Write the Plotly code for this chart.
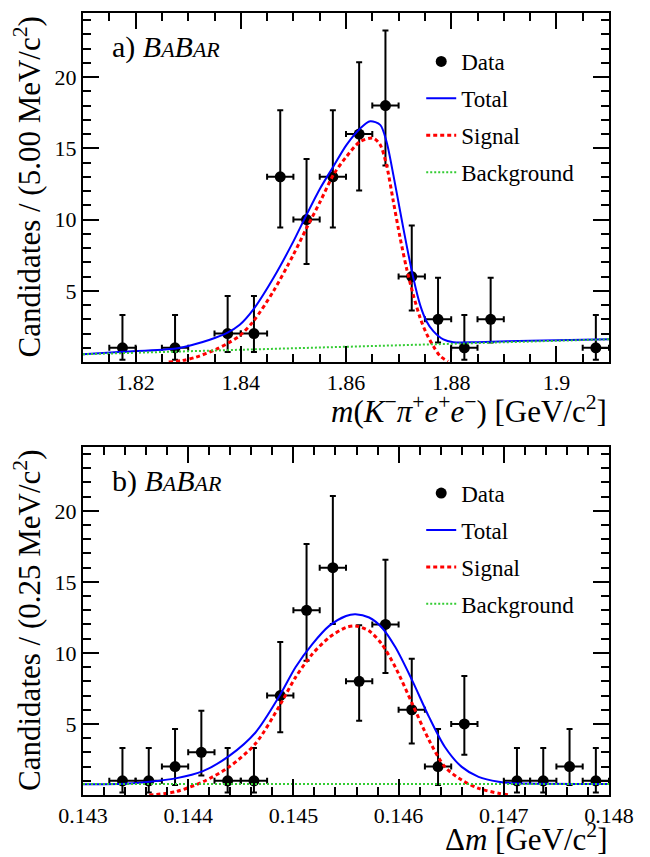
import plotly.graph_objects as go

# ---------------- data: panel a) m(K- pi+ e+ e-) ----------------
mass_centers = [1.8175, 1.8275, 1.8375, 1.8425, 1.8475, 1.8525, 1.8575, 1.8625,
                1.8675, 1.8725, 1.8775, 1.8825, 1.8875, 1.9075]
mass_counts = [1, 1, 2, 2, 13, 10, 13, 16, 18, 6, 3, 1, 3, 1]
mass_err_hi = [2.30, 2.30, 2.64, 2.64, 4.67, 4.26, 4.67, 5.04, 5.27, 3.58, 2.92, 2.30, 2.92, 2.30]
mass_err_lo = [0.83, 0.83, 1.29, 1.29, 3.56, 3.11, 3.56, 3.96, 4.21, 2.38, 1.63, 0.83, 1.63, 0.83]
mass_bin_half = 0.0025

mass_total_x = [1.810, 1.8176, 1.8277, 1.8309, 1.8341, 1.8374, 1.8398, 1.8424, 1.8462, 1.8500,
                1.8525, 1.8551, 1.8576, 1.8601, 1.8627, 1.8646, 1.8665, 1.8677, 1.8690, 1.8703,
                1.8715, 1.8728, 1.8741, 1.8753, 1.8766, 1.8785, 1.8804, 1.8850, 1.8950, 1.910]
mass_total_y = [0.55, 0.72, 0.96, 1.22, 1.57, 2.05, 2.62, 3.70, 5.90, 8.47,
                10.34, 12.20, 13.73, 15.25, 16.40, 16.90, 16.65, 15.48, 13.14, 10.57,
                8.24, 5.90, 4.00, 2.87, 2.17, 1.59, 1.40, 1.40, 1.50, 1.60]
mass_signal_x = [1.8263, 1.8290, 1.8315, 1.8353, 1.8379, 1.8398, 1.8424, 1.8462, 1.8500, 1.8525,
                 1.8551, 1.8576, 1.8601, 1.8627, 1.8652, 1.8665, 1.8677, 1.8690, 1.8703, 1.8715,
                 1.8728, 1.8741, 1.8753, 1.8766, 1.8779, 1.8794]
mass_signal_y = [0.0, 0.12, 0.35, 0.89, 1.40, 1.85, 2.87, 4.97, 7.54, 9.40,
                 11.27, 13.14, 14.43, 15.48, 15.71, 15.25, 13.84, 11.27, 8.70, 6.60,
                 4.70, 3.10, 2.00, 1.12, 0.42, 0.05]
mass_bkg_x = [1.810, 1.910]
mass_bkg_y = [0.55, 1.60]

# ---------------- data: panel b) delta m ----------------
dm_centers = [0.143375, 0.143625, 0.143875, 0.144125, 0.144375, 0.144625, 0.144875, 0.145125,
              0.145375, 0.145625, 0.145875, 0.146125, 0.146375, 0.146625, 0.147125, 0.147375,
              0.147625, 0.147875]
dm_counts = [1, 1, 2, 3, 1, 1, 7, 13, 16, 8, 12, 6, 2, 5, 1, 1, 2, 1]
dm_err_hi = [2.30, 2.30, 2.64, 2.92, 2.30, 2.30, 3.77, 4.67, 5.04, 3.95, 4.55, 3.58, 2.64, 3.38,
             2.30, 2.30, 2.64, 2.30]
dm_err_lo = [0.83, 0.83, 1.29, 1.63, 0.83, 0.83, 2.58, 3.56, 3.96, 2.77, 3.41, 2.38, 1.29, 2.16,
             0.83, 0.83, 1.29, 0.83]
dm_bin_half = 0.000125

dm_total_x = [0.14300, 0.14340, 0.14363, 0.14388, 0.14414, 0.14439, 0.14464, 0.14487, 0.14502,
              0.14518, 0.14534, 0.14550, 0.14559, 0.14572, 0.14584, 0.14597, 0.14613, 0.14629,
              0.14644, 0.14660, 0.14676, 0.14695, 0.14710, 0.14800]
dm_total_y = [0.76, 0.80, 0.93, 1.17, 1.68, 2.75, 4.40, 7.00, 8.99,
              10.62, 11.90, 12.60, 12.72, 12.49, 11.79, 10.39, 8.05, 5.48,
              3.38, 1.98, 1.28, 0.93, 0.82, 0.78]
dm_signal_x = [0.14363, 0.14388, 0.14414, 0.14439, 0.14464, 0.14487, 0.14502, 0.14518, 0.14534,
               0.14550, 0.14559, 0.14572, 0.14584, 0.14597, 0.14613, 0.14629, 0.14644, 0.14660,
               0.14676, 0.14695, 0.14706]
dm_signal_y = [0.0, 0.23, 0.93, 1.98, 3.62, 6.30, 8.28, 9.92, 11.09,
               11.79, 11.90, 11.55, 10.62, 8.98, 6.42, 3.85, 1.98, 1.05,
               0.47, 0.12, 0.0]
dm_bkg_x = [0.143, 0.148]
dm_bkg_y = [0.78, 0.78]

y_ticks = [5, 10, 15, 20]
mass_ticks = [1.82, 1.84, 1.86, 1.88, 1.90]
mass_ticktext = ["1.82", "1.84", "1.86", "1.88", "1.9"]
dm_ticks = [0.143, 0.144, 0.145, 0.146, 0.147, 0.148]
dm_ticktext = ["0.143", "0.144", "0.145", "0.146", "0.147", "0.148"]

FONT = "Liberation Serif"
BLUE = "#0000ff"
RED = "#ff0000"
GREEN = "#33cc33"

fig = go.Figure()


def add_panel(xa, ya, leg, tag, xc, n, ehi, elo, half, tx, ty, sx, sy, bx, by):
    fig.add_trace(go.Scatter(
        x=xc, y=n, mode="markers", name="Data", xaxis=xa, yaxis=ya, legend=leg,
        legendgroup=tag + "d",
        marker=dict(color="black", size=11, symbol="circle"),
        error_y=dict(type="data", symmetric=False, array=ehi, arrayminus=elo,
                     color="black", thickness=2, width=3),
        error_x=dict(type="constant", value=half, color="black", thickness=2, width=3),
    ))
    fig.add_trace(go.Scatter(
        x=tx, y=ty, mode="lines", name="Total", xaxis=xa, yaxis=ya, legend=leg,
        legendgroup=tag + "t",
        line=dict(color=BLUE, width=2, shape="spline", smoothing=0.8),
    ))
    fig.add_trace(go.Scatter(
        x=sx, y=sy, mode="lines", name="Signal", xaxis=xa, yaxis=ya, legend=leg,
        legendgroup=tag + "s",
        line=dict(color=RED, width=3, dash="4px,3px", shape="spline", smoothing=0.8),
    ))
    fig.add_trace(go.Scatter(
        x=bx, y=by, mode="lines", name="Background", xaxis=xa, yaxis=ya, legend=leg,
        legendgroup=tag + "b",
        line=dict(color=GREEN, width=2, dash="2px,2px"),
    ))


add_panel("x", "y", "legend", "a", mass_centers, mass_counts, mass_err_hi, mass_err_lo,
          mass_bin_half, mass_total_x, mass_total_y, mass_signal_x, mass_signal_y,
          mass_bkg_x, mass_bkg_y)
add_panel("x2", "y2", "legend2", "b", dm_centers, dm_counts, dm_err_hi, dm_err_lo,
          dm_bin_half, dm_total_x, dm_total_y, dm_signal_x, dm_signal_y,
          dm_bkg_x, dm_bkg_y)

axis_common = dict(
    showline=True, linewidth=2, linecolor="black", mirror="allticks",
    ticks="inside", ticklen=16, tickwidth=2, tickcolor="black",
    showgrid=False, zeroline=False,
    tickfont=dict(family=FONT, size=22, color="black"),
)

TOP_DOM = [0.5536, 1.0]
BOT_DOM = [0.0, 0.4452]

# page has an 8px body margin; figure is sized so it fits the 650x857 window
fig.update_layout(
    width=642, height=849,
    margin=dict(l=75, r=41, t=3, b=62),
    paper_bgcolor="white", plot_bgcolor="white",
    font=dict(family=FONT, size=22, color="black"),
    xaxis=dict(domain=[0, 1], anchor="y", range=[1.81, 1.91], tickvals=mass_ticks,
               ticktext=mass_ticktext,
               minor=dict(ticks="inside", ticklen=8, tickwidth=1.5, dtick=0.005,
                          tick0=1.81, tickcolor="black"),
               **axis_common),
    yaxis=dict(domain=TOP_DOM, anchor="x", range=[0, 24.5], tickvals=y_ticks,
               minor=dict(ticks="inside", ticklen=8, tickwidth=1.5, dtick=1, tick0=0,
                          tickcolor="black"),
               **axis_common),
    xaxis2=dict(domain=[0, 1], anchor="y2", range=[0.143, 0.148], tickvals=dm_ticks,
                ticktext=dm_ticktext,
                minor=dict(ticks="inside", ticklen=8, tickwidth=1.5, dtick=0.0002,
                           tick0=0.143, tickcolor="black"),
                **axis_common),
    yaxis2=dict(domain=BOT_DOM, anchor="x2", range=[0, 24.5], tickvals=y_ticks,
                minor=dict(ticks="inside", ticklen=8, tickwidth=1.5, dtick=1, tick0=0,
                           tickcolor="black"),
                **axis_common),
    legend=dict(x=0.643, y=0.9655, xanchor="left", yanchor="top", bgcolor="rgba(0,0,0,0)",
                font=dict(family=FONT, size=23), tracegroupgap=4, itemwidth=30),
    legend2=dict(x=0.643, y=0.4135, xanchor="left", yanchor="top", bgcolor="rgba(0,0,0,0)",
                 font=dict(family=FONT, size=23), tracegroupgap=4, itemwidth=30),
    showlegend=True,
)

babar = "<i>B<span style='font-size:22px'>A</span>B<span style='font-size:22px'>AR</span></i>"
ann_font = dict(family=FONT, size=30, color="black")
title_font = dict(family=FONT, size=31, color="black")
annotations = [
    dict(text="a) " + babar, xref="paper", yref="paper", x=0.051, y=0.9566,
         xanchor="left", yanchor="middle", showarrow=False, font=ann_font),
    dict(text="b) " + babar, xref="paper", yref="paper", x=0.051, y=0.4018,
         xanchor="left", yanchor="middle", showarrow=False, font=ann_font),
    dict(text="Candidates / (5.00 MeV/c<sup>2</sup>)", xref="paper", yref="paper",
         x=0, xshift=-55, y=(TOP_DOM[0] + TOP_DOM[1]) / 2, xanchor="center", yanchor="middle",
         textangle=-90, showarrow=False, font=title_font),
    dict(text="Candidates / (0.25 MeV/c<sup>2</sup>)", xref="paper", yref="paper",
         x=0, xshift=-55, y=(BOT_DOM[0] + BOT_DOM[1]) / 2, xanchor="center", yanchor="middle",
         textangle=-90, showarrow=False, font=title_font),
    dict(text="<i>m</i>(<i>K</i><sup>\u2212</sup><i>\u03c0</i><sup>+</sup><i>e</i><sup>+</sup>"
              "<i>e</i><sup>\u2212</sup>) [GeV/c<sup>2</sup>]",
         xref="paper", yref="paper", x=1, y=0.4936, xanchor="right", yanchor="middle",
         showarrow=False, font=title_font),
    dict(text="\u0394<i>m</i> [GeV/c<sup>2</sup>]", xref="paper", yref="paper",
         x=1, y=-0.0548, xanchor="right", yanchor="middle", showarrow=False, font=title_font),
]
fig.update_layout(annotations=annotations)

fig.write_html("out.html")
